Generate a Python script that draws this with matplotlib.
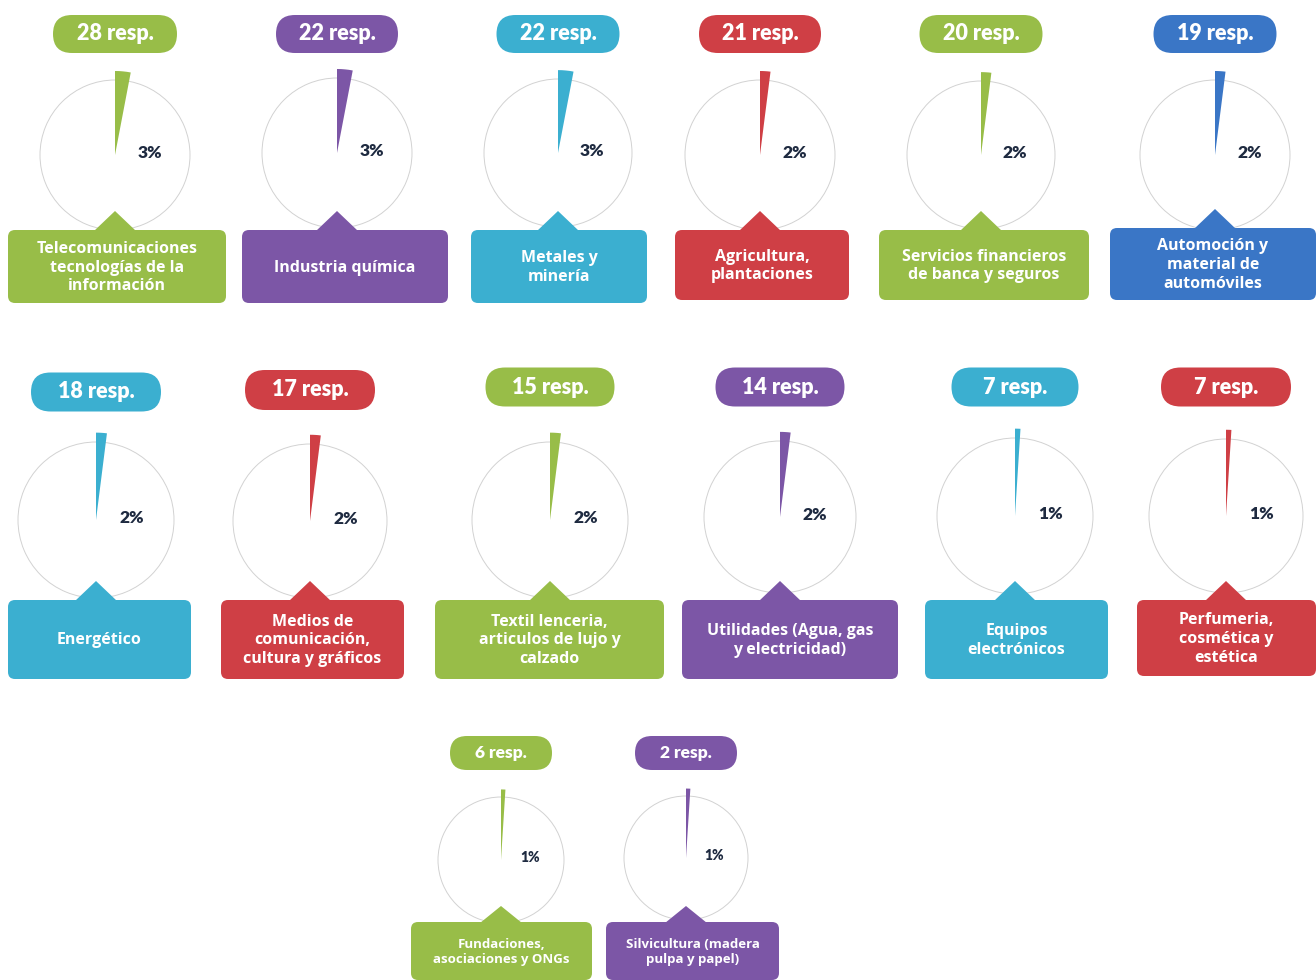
import matplotlib.pyplot as plt
from matplotlib.patches import FancyBboxPatch, Polygon

# ---------------- data ----------------
sectors = [
    "Telecomunicaciones\ntecnologías de la\ninformación",
    "Industria química",
    "Metales y\nminería",
    "Agricultura,\nplantaciones",
    "Servicios financieros\nde banca y seguros",
    "Automoción y\nmaterial de\nautomóviles",
    "Energético",
    "Medios de\ncomunicación,\ncultura y gráficos",
    "Textil lenceria,\narticulos de lujo y\ncalzado",
    "Utilidades (Agua, gas\ny electricidad)",
    "Equipos\nelectrónicos",
    "Perfumeria,\ncosmética y\nestética",
    "Fundaciones,\nasociaciones y ONGs",
    "Silvicultura (madera\npulpa y papel)",
]
responses = [28, 22, 22, 21, 20, 19, 18, 17, 15, 14, 7, 7, 6, 2]
percents = [3, 3, 3, 2, 2, 2, 2, 2, 2, 2, 1, 1, 1, 1]
color_keys = ["green", "purple", "cyan", "red", "green", "blue", "cyan",
              "red", "green", "purple", "cyan", "red", "green", "purple"]

# ---------------- style ----------------
PALETTE = {
    "green": "#98BD48",
    "purple": "#7C56A6",
    "cyan": "#3BAFD0",
    "red": "#CF3F45",
    "blue": "#3A76C6",
}
W, H = 1316, 980
FONT = "Lato"
LABEL_FONT = "Open Sans"

# layout slots (pixel coords, y from top)
# cx, cy, r, badge_y, badge_w, badge_h, box_x0, box_x1, box_y0, box_y1
slots = [
    (115, 155, 75, 34, 124, 38, 8, 226, 230, 303),
    (337, 153, 75, 34, 122, 38, 242, 448, 230, 303),
    (558, 153, 74, 34, 123, 38, 471, 647, 230, 303),
    (760, 155, 75, 34, 122, 38, 675, 849, 230, 300),
    (981, 155, 74, 34, 123, 38, 879, 1089, 230, 300),
    (1215, 155, 75, 34, 123, 38, 1110, 1316, 228, 300),
    (96, 520, 78, 392, 130, 39, 8, 191, 600, 679),
    (310, 521, 77, 390, 130, 40, 221, 404, 600, 679),
    (550, 520, 78, 387, 129, 39, 435, 664, 600, 679),
    (780, 517, 76, 387, 129, 39, 682, 898, 600, 679),
    (1015, 516, 78, 387, 127, 39, 925, 1108, 600, 679),
    (1226, 516, 77, 387, 130, 39, 1137, 1316, 600, 676),
    (501, 860, 63, 753, 102, 34, 411, 592, 922, 980),
    (686, 858, 62, 753, 102, 34, 606, 779, 922, 980),
]


def fy(y):
    return H - y


fig = plt.figure(figsize=(W / 100, H / 100), dpi=100)
ax = fig.add_axes([0, 0, 1, 1])

for i in range(len(sectors)):
    cx, cy, r, by, bw, bh, x0, x1, y0, y1 = slots[i]
    col = PALETTE[color_keys[i]]
    small = i >= 12

    # base circle
    ax.pie([100], radius=r, center=(cx, fy(cy)), colors=["white"],
           wedgeprops=dict(edgecolor="#D2D2D2", linewidth=0.7), frame=True)
    # highlighted slice, drawn a bit larger than the circle
    ax.pie([percents[i], 100 - percents[i]], radius=r * 1.12,
           center=(cx, fy(cy)), startangle=90, counterclock=False,
           colors=[col, "none"], wedgeprops=dict(linewidth=0), frame=True)
    ax.text(cx + 0.46 * r, fy(cy - 2), f"{percents[i]}%",
            ha="center", va="center", fontsize=10 if small else 12.5,
            fontweight="heavy", color="#1E2A40", family=FONT)

    # badge on top
    ax.add_patch(FancyBboxPatch((cx - bw / 2, fy(by + bh / 2)), bw, bh,
                                boxstyle=f"round,pad=0,rounding_size={bh / 2}",
                                facecolor=col, edgecolor="none"))
    ax.text(cx, fy(by), f"{responses[i]} resp.", ha="center", va="center",
            fontsize=12.5 if small else 15.5, fontweight="heavy",
            color="white", family=FONT)

    # label box with pointer
    th = 16 if small else 19
    ax.add_patch(FancyBboxPatch((x0, fy(y1)), x1 - x0, y1 - y0,
                                boxstyle="round,pad=0,rounding_size=7",
                                facecolor=col, edgecolor="none"))
    ax.add_patch(Polygon([(cx - 21, fy(y0) - 1), (cx + 21, fy(y0) - 1),
                          (cx, fy(y0 - th))], closed=True,
                         facecolor=col, edgecolor="none"))
    ax.text((x0 + x1) / 2, fy((y0 + y1) / 2 + 1), sectors[i],
            ha="center", va="center", fontsize=9.5 if small else 11.5,
            fontweight="bold", color="white", family=LABEL_FONT,
            linespacing=1.22)

ax.set_xlim(0, W)
ax.set_ylim(0, H)
ax.set_aspect("equal")
ax.axis("off")

fig.savefig("out.png", dpi=100)
